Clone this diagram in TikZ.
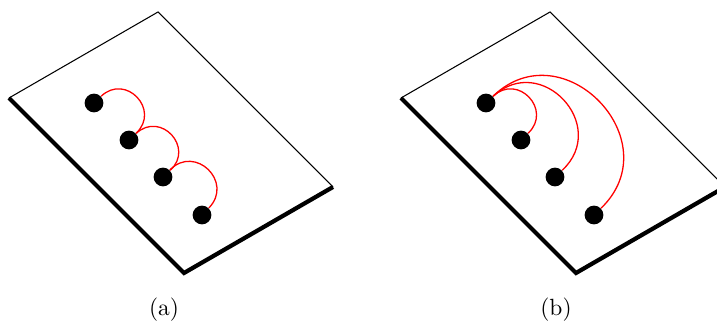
\documentclass[tikz,border=0pt]{standalone}
\usetikzlibrary{positioning}
\begin{document}
\begin{tikzpicture}[
    x=0.4265pt, y=0.4265pt,
    plate edge/.style={draw=black, line width=0.45pt},
    plate rim/.style={draw=black, line width=1.8pt, line join=miter},
    site node/.style={circle, fill=black, inner sep=0pt, minimum size=8pt},
    link line/.style={draw=red, line width=0.55pt, bend left=90, looseness=1.7},
    caption node/.style={font=\normalsize, anchor=center}
]
\useasboundingbox (0,0) rectangle (717,323);
\clip (0,0) rectangle (717,323);

%================CONFIGURATION================
% Horizontal offset between panel (a) and panel (b)
\def\panelsep{392}
%=============================================

\foreach \p [count=\c] in {a,b} {

    % --- 1. Panel offset ---
    \pgfmathsetmacro{\xOff}{(\c-1) * \panelsep}

    % --- 2. Plate corners ---
    \coordinate (\p L) at (\xOff+9, 225);
    \coordinate (\p T) at (\xOff+158, 311);
    \coordinate (\p R) at (\xOff+333, 136);
    \coordinate (\p B) at (\xOff+184, 50);

    % --- 3. Draw plate ---
    \draw[plate edge] (\p L) -- (\p T) -- (\p R);
    \draw[plate rim] (\p L) -- (\p B) -- (\p R);

    % --- 4. Sites on the plate ---
    \node[site node] (\p1) at (\xOff+94, 220) {};
    \node[site node] (\p2) at (\xOff+129, 183) {};
    \node[site node] (\p3) at (\xOff+163, 146) {};
    \node[site node] (\p4) at (\xOff+202, 108) {};

    % --- 5. Caption ---
    \node[caption node] (cap\p) at (\xOff+164, 13) {(\p)};
}

% (a): neighbour links
\draw[link line] (a1) to (a2);
\draw[link line] (a2) to (a3);
\draw[link line] (a3) to (a4);

% (b): links from the first site
\draw[link line] (b1) to (b2);
\draw[link line, looseness=1.65] (b1) to (b3);
\draw[link line, looseness=1.6] (b1) to (b4);

\end{tikzpicture}
\end{document}
